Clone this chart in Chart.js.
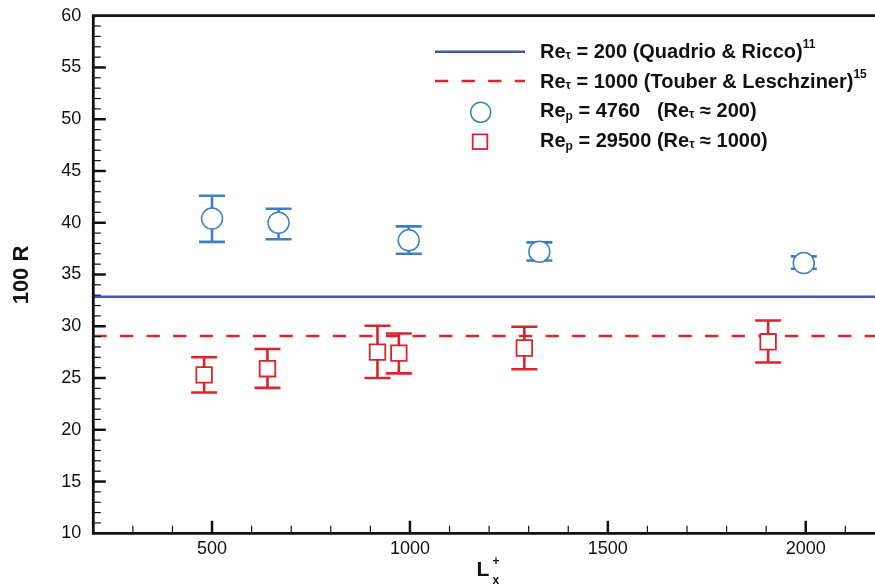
<!DOCTYPE html>
<html>
<head>
<meta charset="utf-8">
<script src="https://cdn.jsdelivr.net/npm/chart.js@4.4.1/dist/chart.umd.min.js"></script>
<style>
  html, body { margin: 0; padding: 0; background: #fff; }
  #wrap { position: relative; width: 875px; height: 588px; overflow: hidden; }
  canvas { display: block; }
  .txt { position: absolute; font-family: "Liberation Sans", Arial, sans-serif; font-weight: bold; color: #111; white-space: pre; }
  .leg { font-size: 20px; line-height: 20px; left: 540px; }
  .sub { font-size: 12px; position: relative; top: 3px; }
  .sup { font-size: 12px; position: relative; top: -10px; }
</style>
</head>
<body>
<div id="wrap">
  <canvas id="chart" width="875" height="588"></canvas>

  <div class="txt leg" style="top:41.4px">Re<span class="sub" style="top:1px">τ</span> = 200 (Quadrio &amp; Ricco)<span class="sup">11</span></div>
  <div class="txt leg" style="top:70.8px">Re<span class="sub" style="top:1px">τ</span> = 1000 (Touber &amp; Leschziner)<span class="sup">15</span></div>
  <div class="txt leg" style="top:100.4px">Re<span class="sub">p</span> = 4760   (Re<span class="sub" style="top:1px">τ</span> ≈ 200)</div>
  <div class="txt leg" style="top:129.8px">Re<span class="sub">p</span> = 29500 (Re<span class="sub" style="top:1px">τ</span> ≈ 1000)</div>

  <div class="txt" style="font-size:22px;line-height:22px;width:100px;text-align:center;left:-29px;top:264px;transform:rotate(-90deg)">100 R</div>
  <div class="txt" style="font-size:21px;line-height:21px;left:476.5px;top:558px">L</div>
  <div class="txt" style="font-size:12px;line-height:12px;left:492.5px;top:555.3px">+</div>
  <div class="txt" style="font-size:12px;line-height:12px;left:492.5px;top:573.8px">x</div>
</div>

<script>
// values
const blueX = [500, 668, 997, 1327, 1995];
const blueY = [40.4, 40.0, 38.3, 37.2, 36.1];
const blueLo = [38.15, 38.4, 37.0, 36.35, 35.55];
const blueHi = [42.6, 41.35, 39.65, 38.1, 36.75];

const redX = [480, 640, 918, 972, 1289, 1905];
const redY = [25.3, 25.9, 27.5, 27.4, 27.9, 28.5];
const redLo = [23.6, 24.05, 25.0, 25.45, 25.85, 26.5];
const redHi = [27.0, 27.8, 30.05, 29.3, 29.95, 30.55];

const refRe200 = 32.85;   // Quadrio & Ricco
const refRe1000 = 29.05;  // Touber & Leschziner

const xRange = [200, 2175];
const yRange = [10, 60];
const xTickLabels = [500, 1000, 1500, 2000];

const BLUE = "#3f7ec6";
const BLUE_LINE = "#4257a6";
const RED = "#d8262d";
const FONT = "'Liberation Sans', Arial, sans-serif";

const pts = (xs, ys) => xs.map((x, i) => ({ x: x, y: ys[i] }));

// error bars, drawn just before the marker dataset so markers sit on top
const errorBars = {
  id: "errorBars",
  beforeDatasetDraw(chart, args) {
    const ds = chart.data.datasets[args.index];
    if (!ds.errLo) return;
    const { ctx, scales: { x, y } } = chart;
    ctx.save();
    ctx.strokeStyle = ds.errColor;
    ctx.lineWidth = 2.6;
    ds.data.forEach((p, i) => {
      const px = x.getPixelForValue(p.x);
      const lo = y.getPixelForValue(ds.errLo[i]);
      const hi = y.getPixelForValue(ds.errHi[i]);
      ctx.beginPath();
      ctx.moveTo(px, lo); ctx.lineTo(px, hi);
      ctx.moveTo(px - 13, lo); ctx.lineTo(px + 13, lo);
      ctx.moveTo(px - 13, hi); ctx.lineTo(px + 13, hi);
      ctx.stroke();
    });
    ctx.restore();
  }
};

// axis frame with inward ticks, plus the legend samples
const frame = {
  id: "frame",
  afterDraw(chart) {
    const { ctx, chartArea: a, scales: { x, y } } = chart;
    ctx.save();
    ctx.strokeStyle = "#111";

    for (let v = yRange[0] + 1; v < yRange[1]; v++) {
      const py = y.getPixelForValue(v);
      const major = v % 5 === 0;
      ctx.lineWidth = major ? 2.5 : 1.2;
      ctx.beginPath();
      ctx.moveTo(a.left, py); ctx.lineTo(a.left + (major ? 12.5 : 7.5), py);
      ctx.stroke();
    }
    for (let v = 300; v < xRange[1]; v += 100) {
      const px = x.getPixelForValue(v);
      const major = v % 500 === 0;
      ctx.lineWidth = major ? 2.5 : 1.2;
      ctx.beginPath();
      ctx.moveTo(px, a.bottom); ctx.lineTo(px, a.bottom - (major ? 12.5 : 7.5));
      ctx.stroke();
    }

    ctx.lineWidth = 2.8;
    ctx.beginPath();
    ctx.moveTo(a.right, a.top);
    ctx.lineTo(a.left, a.top);
    ctx.lineTo(a.left, a.bottom);
    ctx.lineTo(a.right, a.bottom);
    ctx.stroke();

    // legend samples
    ctx.lineWidth = 2.5;
    ctx.strokeStyle = BLUE_LINE;
    ctx.beginPath(); ctx.moveTo(435, 51.7); ctx.lineTo(525, 51.7); ctx.stroke();
    ctx.strokeStyle = RED;
    ctx.setLineDash([13.3, 13.3]);
    ctx.beginPath(); ctx.moveTo(435, 81); ctx.lineTo(525, 81); ctx.stroke();
    ctx.setLineDash([]);
    ctx.lineWidth = 1.5;
    ctx.strokeStyle = BLUE;
    ctx.beginPath(); ctx.arc(480.7, 112.3, 10, 0, Math.PI * 2); ctx.stroke();
    ctx.lineWidth = 1.8;
    ctx.strokeStyle = RED;
    ctx.strokeRect(480 - 7.3, 141.7 - 7.3, 14.6, 14.6);
    ctx.restore();
  }
};

new Chart(document.getElementById("chart"), {
  type: "scatter",
  data: {
    datasets: [
      {
        type: "line",
        data: [{ x: xRange[0], y: refRe200 }, { x: xRange[1], y: refRe200 }],
        borderColor: BLUE_LINE,
        borderWidth: 2.5,
        pointRadius: 0,
        order: 3
      },
      {
        type: "line",
        data: [{ x: xRange[0], y: refRe1000 }, { x: xRange[1], y: refRe1000 }],
        borderColor: RED,
        borderWidth: 2.5,
        borderDash: [13.3, 13.3],
        pointRadius: 0,
        order: 2
      },
      {
        data: pts(blueX, blueY),
        pointStyle: "circle",
        pointRadius: 10.5,
        pointBackgroundColor: "#fff",
        pointBorderColor: BLUE,
        pointBorderWidth: 1.5,
        errLo: blueLo,
        errHi: blueHi,
        errColor: BLUE,
        order: 1
      },
      {
        data: pts(redX, redY),
        pointStyle: "rect",
        pointRadius: 11,
        pointBackgroundColor: "#fff",
        pointBorderColor: RED,
        pointBorderWidth: 1.8,
        errLo: redLo,
        errHi: redHi,
        errColor: RED,
        order: 0
      }
    ]
  },
  options: {
    responsive: false,
    animation: false,
    layout: { autoPadding: false, padding: { top: 15.7, right: 0, left: 0, bottom: 0 } },
    plugins: { legend: { display: false }, tooltip: { enabled: false } },
    scales: {
      x: {
        type: "linear",
        min: xRange[0],
        max: xRange[1],
        afterFit: (s) => { s.height = 54.7; s.paddingLeft = 0; s.paddingRight = 0; },
        afterBuildTicks: (s) => { s.ticks = xTickLabels.map((v) => ({ value: v })); },
        grid: { display: false, drawTicks: false },
        border: { display: false },
        ticks: { font: { family: FONT, size: 18 }, color: "#111", padding: 5, maxRotation: 0, callback: (v) => String(v) }
      },
      y: {
        min: yRange[0],
        max: yRange[1],
        afterFit: (s) => { s.width = 93.3; s.paddingTop = 0; s.paddingBottom = 0; },
        grid: { display: false, drawTicks: false },
        border: { display: false },
        ticks: { stepSize: 5, font: { family: FONT, size: 18 }, color: "#111", padding: 12 }
      }
    }
  },
  plugins: [errorBars, frame]
});
</script>
</body>
</html>
